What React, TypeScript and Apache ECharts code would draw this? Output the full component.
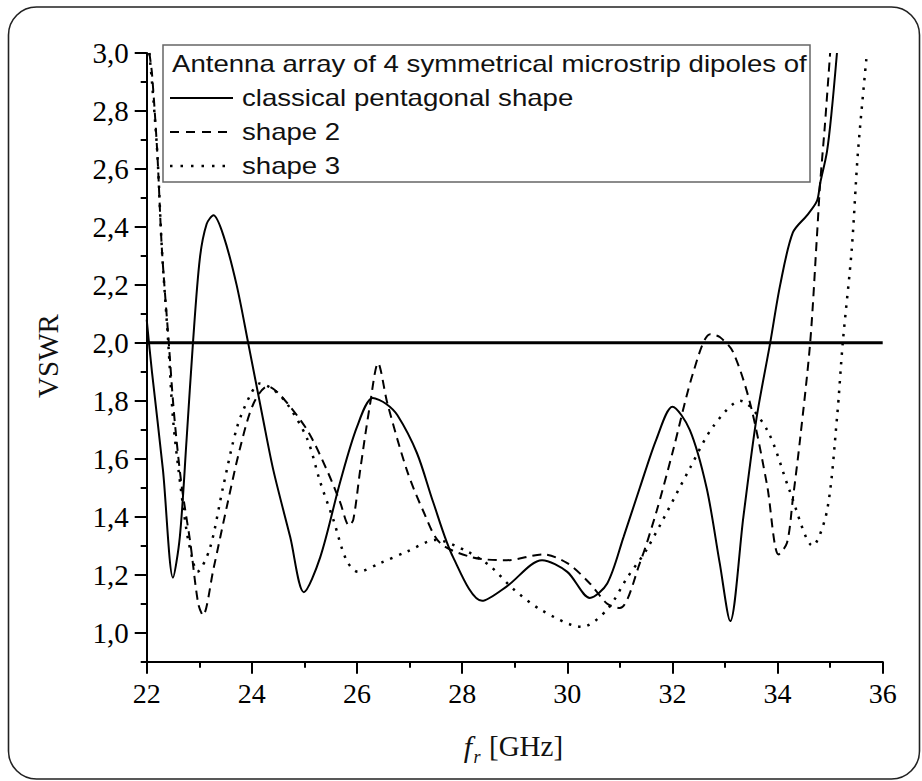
import React, { useEffect, useRef } from "react";
import * as echarts from "echarts";

// ---- data ----
const xTicks = [22, 24, 26, 28, 30, 32, 34, 36];
const yMajorTicks = [1.0, 1.2, 1.4, 1.6, 1.8, 2.0, 2.2, 2.4, 2.6, 2.8, 3.0];
const yMinorTicks = [0.9, 1.1, 1.3, 1.5, 1.7, 1.9, 2.1, 2.3, 2.5, 2.7, 2.9];
const refLevel = 2.0;

const freqClassical = [22.0, 22.1, 22.31, 22.5, 22.63, 22.76, 22.88, 23.01, 23.14, 23.27, 23.46, 23.71, 23.93, 24.21, 24.41, 24.73, 24.99, 25.3, 25.68, 26.0, 26.3, 26.55, 26.77, 27.14, 27.45, 27.83, 28.38, 28.85, 29.52, 30.0, 30.43, 30.76, 31.07, 31.38, 31.7, 32.0, 32.33, 32.65, 32.9, 33.1, 33.35, 33.6, 33.86, 34.05, 34.29, 34.56, 34.75, 34.81, 34.94, 35.03, 35.13];
const vswrClassical = [2.08, 1.9, 1.56, 1.19, 1.33, 1.67, 2.0, 2.29, 2.41, 2.44, 2.37, 2.2, 2.0, 1.74, 1.56, 1.33, 1.14, 1.26, 1.52, 1.71, 1.81, 1.79, 1.75, 1.62, 1.45, 1.26, 1.11, 1.16, 1.25, 1.21, 1.12, 1.17, 1.33, 1.5, 1.67, 1.78, 1.7, 1.5, 1.24, 1.04, 1.4, 1.74, 2.0, 2.2, 2.38, 2.44, 2.49, 2.55, 2.66, 2.8, 3.0];

const freqShape2 = [22.05, 22.1, 22.2, 22.29, 22.42, 22.5, 22.57, 22.67, 22.83, 22.98, 23.07, 23.27, 23.53, 23.78, 24.03, 24.3, 24.54, 25.05, 25.43, 25.68, 25.85, 25.93, 26.06, 26.25, 26.4, 26.58, 26.95, 27.26, 27.58, 28.2, 28.85, 29.54, 30.0, 30.43, 30.76, 31.0, 31.38, 31.7, 32.0, 32.4, 32.72, 32.9, 33.15, 33.48, 33.8, 34.02, 34.18, 34.29, 34.43, 34.62, 34.75, 34.81, 34.9, 35.0];
const vswrShape2 = [3.0, 2.93, 2.66, 2.32, 2.0, 1.8, 1.66, 1.5, 1.31, 1.1, 1.06, 1.22, 1.44, 1.64, 1.79, 1.85, 1.82, 1.7, 1.56, 1.45, 1.37, 1.39, 1.56, 1.79, 1.93, 1.79, 1.56, 1.42, 1.31, 1.26, 1.25, 1.27, 1.24, 1.17, 1.1, 1.085, 1.24, 1.42, 1.62, 1.9, 2.03, 2.02, 1.97, 1.79, 1.51, 1.27, 1.31, 1.46, 1.67, 2.0, 2.37, 2.55, 2.75, 3.0];

const freqShape3 = [22.05, 22.1, 22.2, 22.29, 22.41, 22.5, 22.6, 22.76, 22.89, 22.96, 23.2, 23.45, 23.72, 23.97, 24.15, 24.4, 24.67, 25.05, 25.3, 25.55, 25.8, 26.02, 26.44, 26.95, 27.5, 28.1, 28.53, 28.98, 29.49, 30.28, 30.76, 31.14, 31.52, 32.34, 32.77, 33.29, 33.8, 34.23, 34.67, 34.94, 35.13, 35.24, 35.41, 35.53, 35.7];
const vswrShape3 = [3.0, 2.9, 2.66, 2.32, 2.0, 1.74, 1.57, 1.35, 1.24, 1.21, 1.29, 1.5, 1.71, 1.82, 1.86, 1.84, 1.79, 1.67, 1.52, 1.39, 1.25, 1.21, 1.24, 1.28, 1.32, 1.28, 1.23, 1.15, 1.08, 1.02, 1.08, 1.19, 1.29, 1.57, 1.71, 1.8, 1.7, 1.49, 1.3, 1.42, 1.74, 2.0, 2.32, 2.66, 3.0];

const legendTitle = "Antenna array of 4 symmetrical microstrip dipoles of";
const seriesNames = ["classical pentagonal shape", "shape 2", "shape 3"];

const zip = (xs: number[], ys: number[]) => xs.map((x, i) => [x, ys[i]]);

export default function App() {
  const ref = useRef<HTMLDivElement>(null);
  useEffect(() => {
    if (!ref.current) return;
    const chart = echarts.init(ref.current, null, { renderer: "svg" });
    const black = "#000";
    const serif = "Liberation Serif";
    const sans = "Liberation Sans";
    const lx1 = 170, lx2 = 233, ltx = 242;
    const rows = [64, 98, 132, 166];
    const legendScale = 1.2;
    const legendFont = 23;
    const dashes = [null, [9, 7], [2.5, 8]];
    const option: any = {
      animation: false,
      backgroundColor: "#fff",
      textStyle: { fontFamily: serif },
      grid: { left: 146.7, right: 39.3, top: 53, bottom: 119.3 },
      xAxis: {
        type: "value",
        min: 22,
        max: 36,
        interval: 2,
        axisLine: { lineStyle: { color: black, width: 2 } },
        axisTick: { length: 12, lineStyle: { color: black, width: 2 } },
        minorTick: { show: true, splitNumber: 2, length: 6, lineStyle: { color: black, width: 2 } },
        splitLine: { show: false },
        axisLabel: { color: black, fontFamily: serif, fontSize: 28, margin: 18 },
      },
      yAxis: [
        {
          type: "value",
          min: 0.9,
          max: 3.0,
          axisLine: { show: true, lineStyle: { color: black, width: 2 } },
          axisTick: { show: true, customValues: yMajorTicks, length: 12, lineStyle: { color: black, width: 2 } },
          axisLabel: {
            customValues: yMajorTicks,
            formatter: (v: number) => v.toFixed(1).replace(".", ","),
            color: black,
            fontFamily: serif,
            fontSize: 29,
            margin: 18,
          },
          splitLine: { show: false },
        },
        {
          type: "value",
          min: 0.9,
          max: 3.0,
          position: "left",
          axisLine: { show: false },
          axisTick: { show: true, customValues: yMinorTicks, length: 6, lineStyle: { color: black, width: 2 } },
          axisLabel: { show: false },
          splitLine: { show: false },
        },
      ],
      series: [
        {
          type: "line",
          data: [[xTicks[0], refLevel], [xTicks[xTicks.length - 1], refLevel]],
          showSymbol: false,
          lineStyle: { color: black, width: 3 },
          silent: true,
        },
        {
          name: seriesNames[0],
          type: "line",
          data: zip(freqClassical, vswrClassical),
          smooth: 0.3,
          showSymbol: false,
          lineStyle: { color: black, width: 2 },
        },
        {
          name: seriesNames[1],
          type: "line",
          data: zip(freqShape2, vswrShape2),
          smooth: 0.3,
          showSymbol: false,
          lineStyle: { color: black, width: 2, type: [9, 6] },
        },
        {
          name: seriesNames[2],
          type: "line",
          data: zip(freqShape3, vswrShape3),
          smooth: 0.3,
          showSymbol: false,
          lineStyle: { color: black, width: 2.5, type: [2.5, 7] },
        },
      ],
      graphic: [
        {
          type: "rect",
          silent: true,
          z: -10,
          shape: { x: 8.5, y: 7, width: 911, height: 772, r: 28 },
          style: { fill: "none", stroke: "#222", lineWidth: 1.6 },
        },
        {
          type: "rect",
          silent: true,
          shape: { x: 163, y: 45, width: 647, height: 137 },
          style: { fill: "#fff", stroke: "#666", lineWidth: 1.5 },
        },
        {
          type: "text",
          silent: true,
          x: 172,
          y: rows[0],
          scaleX: legendScale,
          style: { text: legendTitle, fontFamily: sans, fontSize: legendFont, fill: "#111", align: "left", verticalAlign: "middle" },
        },
        ...seriesNames.flatMap((n, i) => [
          {
            type: "line",
            silent: true,
            shape: { x1: lx1, y1: rows[i + 1], x2: lx2, y2: rows[i + 1] },
            style: { stroke: black, lineWidth: i === 2 ? 2.5 : 2, lineDash: dashes[i] || undefined },
          },
          {
            type: "text",
            silent: true,
            x: ltx,
            y: rows[i + 1],
            scaleX: legendScale,
            style: { text: n, fontFamily: sans, fontSize: legendFont, fill: "#111", align: "left", verticalAlign: "middle" },
          },
        ]),
        {
          type: "text",
          silent: true,
          x: 48,
          y: 356,
          rotation: Math.PI / 2,
          style: { text: "VSWR", fontFamily: serif, fontSize: 29, fill: "#111", align: "center", verticalAlign: "middle" },
        },
        {
          type: "text",
          silent: true,
          x: 468,
          y: 746,
          style: { text: "f", fontFamily: serif, fontStyle: "italic", fontSize: 30, fill: "#111", align: "center", verticalAlign: "middle" },
        },
        {
          type: "text",
          silent: true,
          x: 477,
          y: 757,
          style: { text: "r", fontFamily: serif, fontStyle: "italic", fontSize: 18, fill: "#111", align: "center", verticalAlign: "middle" },
        },
        {
          type: "text",
          silent: true,
          x: 489,
          y: 746,
          style: { text: "[GHz]", fontFamily: serif, fontSize: 29, fill: "#111", align: "left", verticalAlign: "middle" },
        },
      ],
    };
    chart.setOption(option);
    return () => chart.dispose();
  }, []);
  return <div ref={ref} style={{ position: "absolute", left: 0, top: 0, width: 922, height: 781 }} />;
}
